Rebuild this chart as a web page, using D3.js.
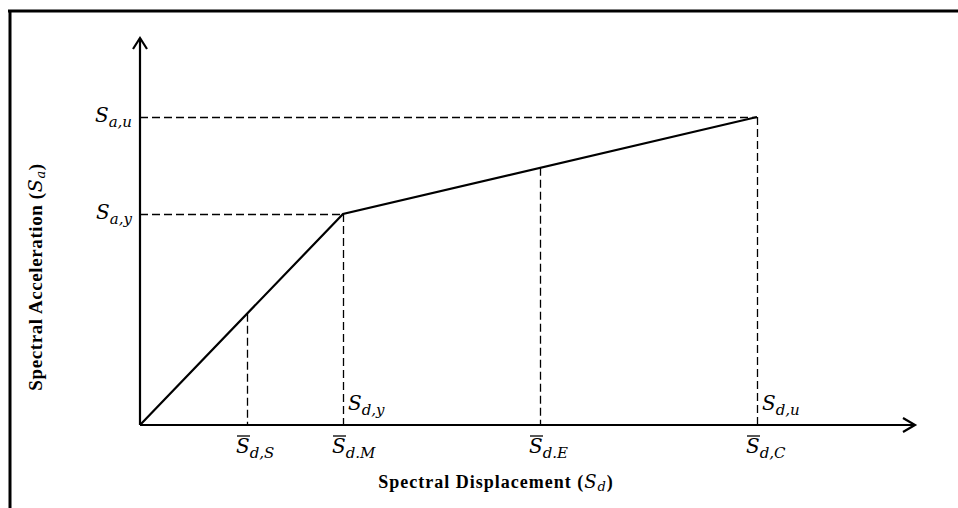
<!DOCTYPE html>
<html>
<head>
<meta charset="utf-8">
<script src="https://cdn.jsdelivr.net/npm/d3@7"></script>
<style>
  body { margin: 0; background: #fff; }
  svg { display: block; }
</style>
</head>
<body>
<svg id="chart" width="958" height="508"></svg>
<script>
// Capacity spectrum: bilinear curve from origin to yield to ultimate point
const curveSd = [0, 2.03, 6.17];          // spectral displacement
const curveSa = [0, 2.11, 3.08];          // spectral acceleration

// Damage-state thresholds on the displacement axis
const stateSd = [1.07, 2.03, 4.0, 6.17];
const stateSub = ["d,S", "d.M", "d.E", "d,C"];

// Named points on the curve
const yLabels = [{ v: 3.08, sub: "a,u" }, { v: 2.11, sub: "a,y" }];
const xLabels = [{ v: 2.03, sub: "d,y" }, { v: 6.17, sub: "d,u" }];

const svg = d3.select("#chart");
const x = d3.scaleLinear().domain([0, 7.75]).range([140, 915]);
const y = d3.scaleLinear().domain([0, 3.85]).range([425, 40]);

// frame
svg.append("line").attr("x1", 8).attr("x2", 958).attr("y1", 11).attr("y2", 11)
  .attr("stroke", "#000").attr("stroke-width", 3);
svg.append("line").attr("x1", 10).attr("x2", 10).attr("y1", 10).attr("y2", 508)
  .attr("stroke", "#000").attr("stroke-width", 3);

// interpolating curve value at a displacement
function saAt(sd) {
  for (let i = 1; i < curveSd.length; i++) {
    if (sd <= curveSd[i] + 1e-9) {
      const t = (sd - curveSd[i - 1]) / (curveSd[i] - curveSd[i - 1]);
      return curveSa[i - 1] + t * (curveSa[i] - curveSa[i - 1]);
    }
  }
  return curveSa[curveSa.length - 1];
}

const dash = g => g.attr("stroke", "#000").attr("stroke-width", 1.3)
  .attr("stroke-dasharray", "8,4").attr("fill", "none");

// horizontal guides from the vertical axis
yLabels.forEach(d => {
  const sd = curveSd[curveSa.indexOf(d.v)];
  svg.append("line").attr("x1", x(0)).attr("x2", x(sd))
    .attr("y1", Math.round(y(d.v)) + 0.5).attr("y2", Math.round(y(d.v)) + 0.5).call(dash);
});
// vertical guides down to the displacement axis
stateSd.forEach(sd => {
  svg.append("line").attr("x1", Math.round(x(sd)) + 0.5).attr("x2", Math.round(x(sd)) + 0.5)
    .attr("y1", y(saAt(sd))).attr("y2", y(0)).call(dash);
});

// axes with open arrowheads
svg.append("line").attr("x1", x(0)).attr("x2", x(0)).attr("y1", y(0)).attr("y2", y(3.85) - 2)
  .attr("stroke", "#000").attr("stroke-width", 2.2);
svg.append("line").attr("x1", x(0)).attr("x2", x(7.75)).attr("y1", y(0)).attr("y2", y(0))
  .attr("stroke", "#000").attr("stroke-width", 2);
svg.append("path")
  .attr("d", `M${x(0) - 7},${y(3.85) + 9} L${x(0)},${y(3.85) - 2} L${x(0) + 7},${y(3.85) + 9}`)
  .attr("fill", "none").attr("stroke", "#000").attr("stroke-width", 2.2);
svg.append("path")
  .attr("d", `M${x(7.75) - 12},${y(0) - 7} L${x(7.75)},${y(0)} L${x(7.75) - 12},${y(0) + 7}`)
  .attr("fill", "none").attr("stroke", "#000").attr("stroke-width", 2.2);

// capacity curve
svg.append("path")
  .datum(curveSd.map((d, i) => [d, curveSa[i]]))
  .attr("d", d3.line().x(d => x(d[0])).y(d => y(d[1])))
  .attr("fill", "none").attr("stroke", "#000").attr("stroke-width", 2.2)
  .attr("stroke-linejoin", "miter");

// math-style label: S with italic subscript
const mathFont = "'DejaVu Serif', 'Liberation Serif', serif";
function mathLabel(px, py, sub, anchor, bar) {
  const t = svg.append("text").attr("x", px).attr("y", py)
    .attr("font-family", mathFont).attr("text-anchor", anchor).attr("fill", "#000");
  t.append("tspan").attr("font-size", 20).attr("font-style", "italic").text("S");
  t.append("tspan").attr("font-size", 15).attr("font-style", "italic")
    .attr("dy", 5).text(sub);
  if (bar) {
    const bb = t.node().getBBox();
    svg.append("line").attr("x1", bb.x + 1).attr("x2", bb.x + 14)
      .attr("y1", py - 17).attr("y2", py - 17)
      .attr("stroke", "#000").attr("stroke-width", 1.3);
  }
  return t;
}

yLabels.forEach(d => mathLabel(x(0) - 8, y(d.v) + 5, d.sub, "end", false));
xLabels.forEach(d => mathLabel(x(d.v) + 5, y(0) - 15, d.sub, "start", false));
stateSd.forEach((sd, i) => mathLabel(x(sd) - 11, y(0) + 28, stateSub[i], "start", true));

// axis titles
const titleFont = "'Liberation Serif', 'Times New Roman', serif";
const xt = svg.append("text").attr("x", 496).attr("y", 488)
  .attr("text-anchor", "middle").attr("font-family", titleFont)
  .attr("font-weight", "bold").attr("font-size", 18).attr("letter-spacing", 1);
xt.append("tspan").text("Spectral Displacement (");
xt.append("tspan").attr("font-family", mathFont).attr("font-style", "italic").attr("font-weight", "normal").text("S");
xt.append("tspan").attr("font-family", mathFont).attr("font-style", "italic").attr("font-weight", "normal")
  .attr("font-size", 13).attr("dy", 3).text("d");
xt.append("tspan").attr("dy", -3).text(")");

const yt = svg.append("text")
  .attr("transform", "translate(42,277) rotate(-90)")
  .attr("text-anchor", "middle").attr("font-family", titleFont)
  .attr("font-weight", "bold").attr("font-size", 19).attr("letter-spacing", 0.6);
yt.append("tspan").text("Spectral Acceleration (");
yt.append("tspan").attr("font-family", mathFont).attr("font-style", "italic").attr("font-weight", "normal").text("S");
yt.append("tspan").attr("font-family", mathFont).attr("font-style", "italic").attr("font-weight", "normal")
  .attr("font-size", 13).attr("dy", 3).text("a");
yt.append("tspan").attr("dy", -3).text(")");
</script>
</body>
</html>
